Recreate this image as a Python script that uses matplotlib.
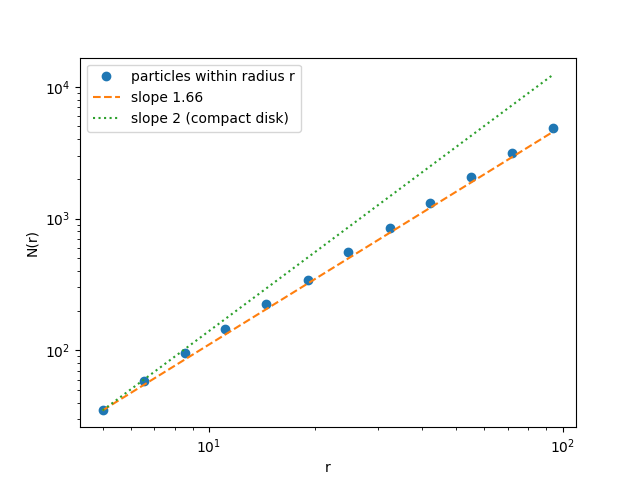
import matplotlib
matplotlib.use("Agg")
import matplotlib.pyplot as plt
import numpy as np

# radius values and particle counts
radius = np.array([5.0, 6.53, 8.53, 11.1, 14.5, 19.0, 24.8, 32.4, 42.3, 55.2, 72.1, 94.2])
counts = np.array([35, 59, 95, 144, 223, 341, 557, 848, 1307, 2073, 3157, 4867])

fit_slope = 1.66
disk_slope = 2

r0 = radius[0]
n0 = counts[0]

fig, ax = plt.subplots(figsize=(6.4, 4.8), dpi=100)

ax.loglog(radius, counts, "o", label="particles within radius r")
ax.loglog(radius, n0 * (radius / r0) ** fit_slope, "--", label=f"slope {fit_slope}")
ax.loglog(radius, n0 * (radius / r0) ** disk_slope, ":", label=f"slope {disk_slope} (compact disk)")

ax.set_xlabel("r")
ax.set_ylabel("N(r)")
ax.legend()

fig.savefig("out.png", dpi=100)
